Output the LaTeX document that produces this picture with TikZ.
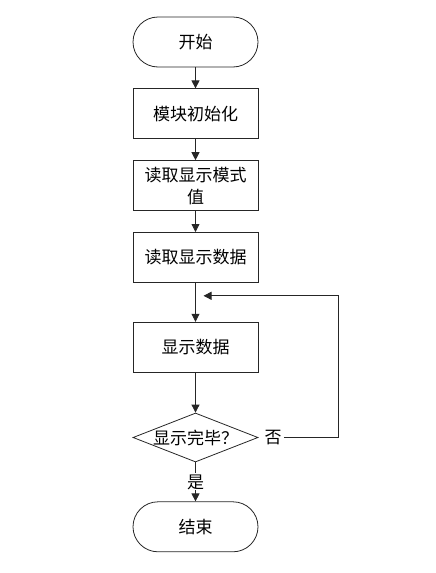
\documentclass[tikz,border=0pt]{standalone}
\usepackage{fontspec}
\setmainfont{Noto Sans CJK SC}
\usetikzlibrary{shapes,arrows.meta,calc,positioning}
\tikzset{
    terminal/.style={
        rectangle,
        rounded corners=25pt,
        draw=black!85,
        line width=0.8pt,
        align=center,
        minimum width=125pt,
        minimum height=50pt
    },
    process/.style={
        rectangle,
        draw=black!85,
        line width=0.8pt,
        align=center,
        minimum width=125pt,
        minimum height=50pt
    },
    decision/.style={
        diamond,
        draw=black!85,
        line width=0.8pt,
        aspect=2.55,
        inner sep=-3pt,
        minimum width=125pt,
        minimum height=49pt
    }
}

\begin{document}
\begin{tikzpicture}[
        node distance=21pt,
        every node/.style={
            font=\fontsize{17pt}{22pt}\selectfont,
            text=black
        },
        flow/.style={draw=black!85, line width=0.8pt, -{Triangle[length=8pt,width=8pt]}}
    ]
    \useasboundingbox (0,0) rectangle (436pt,-573pt);
    \node[terminal] (start) at (195.5pt,-42pt) {开始};
    \node[process, below=of start] (init) {模块初始化};
    \node[process, below=of init] (mode) {读取显示模式\\值};
    \node[process, below=of mode] (read) {读取显示数据};
    \node[process, below=39pt of read] (show) {显示数据};
    \node[decision, below=40pt of show] (check) {显示完毕？};
    \node[terminal, below=39pt of check] (stop) {结束};
    \node[anchor=west, inner sep=2pt, xshift=4pt] (no) at (check.east) {否};
    \coordinate[below right=13pt and 8pt of read.south] (back);

    \draw[flow] (start) -- (init);
    \draw[flow] (init) -- (mode);
    \draw[flow] (mode) -- (read);
    \draw[flow] (read) -- (show);
    \draw[flow] (show) -- (check);
    \draw[flow] (check) -- node[fill=white, inner sep=1pt] (yes) {是} (stop);
    \draw[flow] (no.east) -| ([xshift=80pt]check.east |- back) -- (back);
\end{tikzpicture}
\end{document}
